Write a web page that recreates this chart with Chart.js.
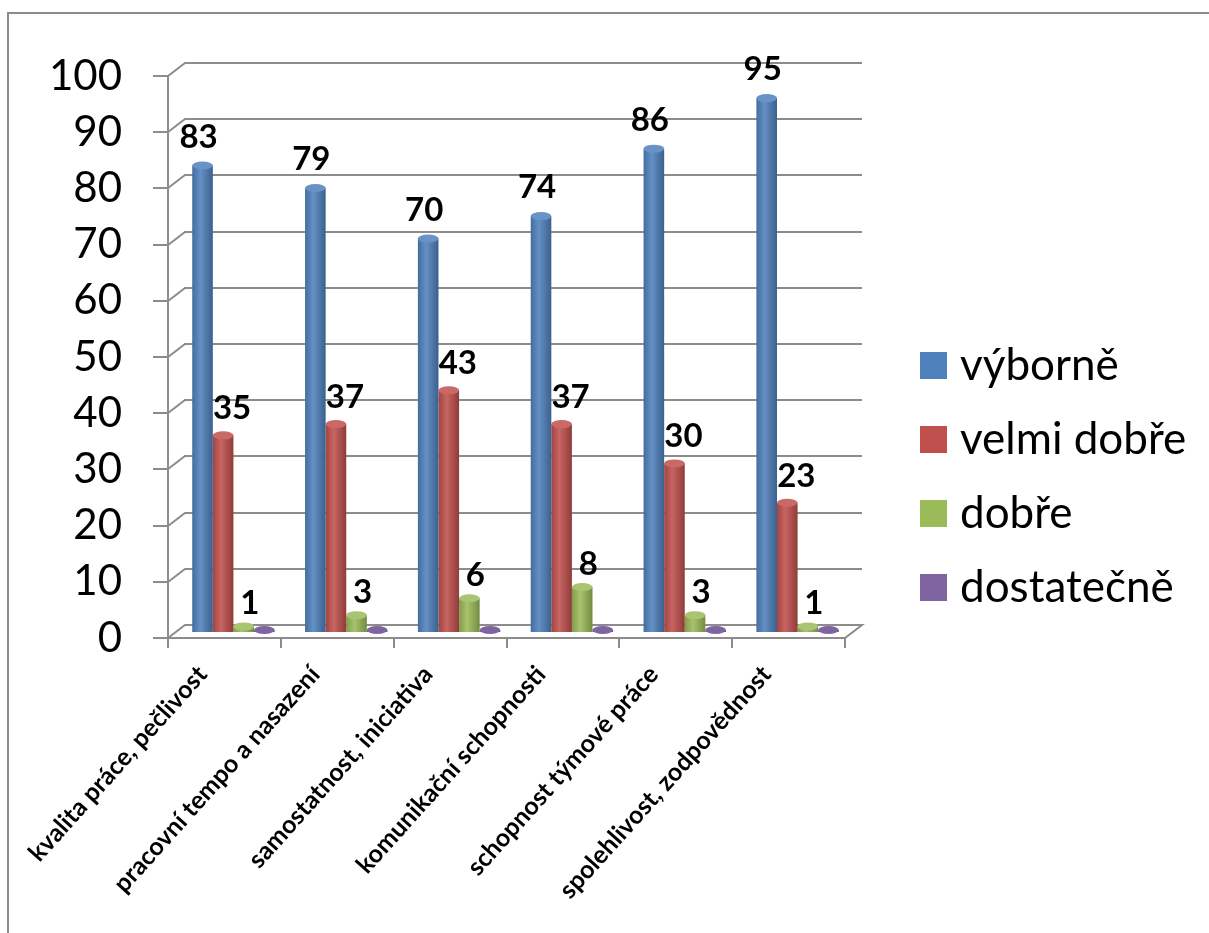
<!DOCTYPE html>
<html lang="cs">
<head>
<meta charset="utf-8">
<title>Hodnocení</title>
<script src="https://cdn.jsdelivr.net/npm/chart.js@4.4.1/dist/chart.umd.min.js"></script>
<style>
  html, body { margin: 0; padding: 0; background: #fff; overflow: hidden; }
  #wrap { position: relative; width: 1209px; height: 933px; }
  #frame { position: absolute; left: 7px; top: 12px; width: 1300px; height: 1000px; border: 2px solid #8c8c8c; box-sizing: border-box; }
  #chart { position: absolute; left: 0; top: 0; }
</style>
</head>
<body>
<div id="wrap">
  <div id="frame"></div>
  <canvas id="chart" width="1209" height="933"></canvas>
</div>
<script>
// data
const categories = [
  'kvalita práce, pečlivost',
  'pracovní tempo a nasazení',
  'samostatnost, iniciativa',
  'komunikační schopnosti',
  'schopnost týmové práce',
  'spolehlivost, zodpovědnost'
];
const seriesNames = ['výborně', 'velmi dobře', 'dobře', 'dostatečně'];
const vyborne    = [83, 79, 70, 74, 86, 95];
const velmiDobre = [35, 37, 43, 37, 30, 23];
const dobre      = [1, 3, 6, 8, 3, 1];
const dostatecne = [0, 0, 0, 0, 0, 0];

const colors = ['#4F81BD', '#C0504D', '#9BBB59', '#8064A2'];
const FONT = 'Lato, "Open Sans", sans-serif';

// 3D look: back wall offset
const DX = 17, DY = -13;
const SHIFT_X = 9, SHIFT_Y = -6;

function shade(hex, f) {
  const n = parseInt(hex.slice(1), 16);
  let r = n >> 16, g = (n >> 8) & 255, b = n & 255;
  if (f < 0) { r *= 1 + f; g *= 1 + f; b *= 1 + f; }
  else { r += (255 - r) * f; g += (255 - g) * f; b += (255 - b) * f; }
  return `rgb(${r | 0},${g | 0},${b | 0})`;
}

// cylinder-ish fill
function cylinder(c, base) {
  const el = c.element;
  if (!el || !el.width) return base;
  const g = c.chart.ctx.createLinearGradient(el.x - el.width / 2, 0, el.x + el.width / 2, 0);
  g.addColorStop(0, shade(base, -0.15));
  g.addColorStop(0.4, shade(base, 0.12));
  g.addColorStop(1, shade(base, -0.25));
  return g;
}

const datasets = [vyborne, velmiDobre, dobre, dostatecne].map((vals, i) => ({
  label: seriesNames[i],
  data: vals,
  backgroundColor: c => cylinder(c, colors[i]),
  borderWidth: 0,
  minBarLength: i === 3 ? 2 : 0
}));

const labelDx = [-4, 9, 6, 0];
const labelDy = [-24, -22, -18, 0];

const look3d = {
  id: 'look3d',
  beforeDatasetsDraw(chart) {
    const { ctx, chartArea: a, scales: { y } } = chart;
    ctx.save();
    ctx.strokeStyle = '#8c8c8c';
    ctx.lineWidth = 2;
    ctx.beginPath();
    y.ticks.forEach(t => {
      const py = Math.round(y.getPixelForValue(t.value));
      ctx.moveTo(a.left - 15, py);
      ctx.lineTo(a.left, py);
      if (t.value > 0) {
        ctx.lineTo(a.left + DX, py + DY);
        ctx.lineTo(a.right + DX, py + DY);
      }
    });
    // floor
    ctx.moveTo(a.left, a.bottom);
    ctx.lineTo(a.left + DX, a.bottom + DY);
    ctx.lineTo(a.right + DX, a.bottom + DY);
    ctx.lineTo(a.right, a.bottom);
    ctx.lineTo(a.left, a.bottom);
    // front axis
    ctx.moveTo(a.left, Math.round(y.getPixelForValue(100)));
    ctx.lineTo(a.left, a.bottom + 10);
    ctx.stroke();
    ctx.restore();

    ctx.save();
    ctx.translate(SHIFT_X, SHIFT_Y);
  },
  afterDatasetsDraw(chart) {
    const ctx = chart.ctx;
    // tops of the cylinders
    chart.data.datasets.forEach((ds, i) => {
      chart.getDatasetMeta(i).data.forEach(el => {
        ctx.beginPath();
        ctx.ellipse(el.x, el.y, el.width / 2, 4, 0, 0, Math.PI * 2);
        ctx.fillStyle = shade(colors[i], i === 3 ? 0 : 0.15);
        ctx.fill();
      });
    });
    ctx.restore();

    // value labels
    ctx.save();
    ctx.font = `bold 33px ${FONT}`;
    ctx.fillStyle = '#000';
    ctx.textAlign = 'center';
    ctx.textBaseline = 'alphabetic';
    chart.data.datasets.forEach((ds, i) => {
      chart.getDatasetMeta(i).data.forEach((el, j) => {
        const v = ds.data[j];
        if (!v) return;
        ctx.fillText(String(v), el.x + SHIFT_X + labelDx[i], el.y + labelDy[i]);
      });
    });
    ctx.restore();
  },
  afterDraw(chart) {
    const ctx = chart.ctx;
    ctx.save();
    ctx.font = `44px ${FONT}`;
    ctx.textBaseline = 'middle';
    chart.data.datasets.forEach((ds, i) => {
      const cy = 365 + i * 74;
      ctx.fillStyle = colors[i];
      ctx.fillRect(920, cy - 13, 27, 27);
      ctx.fillStyle = '#000';
      ctx.fillText(ds.label, 960, cy + 1);
    });
    ctx.restore();
  }
};

const chart = new Chart(document.getElementById('chart'), {
  type: 'bar',
  data: { labels: categories, datasets },
  options: {
    responsive: false,
    animation: false,
    layout: { padding: { left: 8, top: 76, right: 364, bottom: 0 } },
    datasets: { bar: { categoryPercentage: 0.73, barPercentage: 1.0 } },
    plugins: { legend: { display: false }, tooltip: { enabled: false } },
    scales: {
      x: {
        grid: { display: true, drawOnChartArea: false, drawTicks: true, tickLength: 10, color: '#8c8c8c', lineWidth: 2 },
        border: { display: false },
        ticks: {
          color: '#000',
          font: { family: FONT, size: 25, weight: 'bold' },
          maxRotation: 48, minRotation: 48, autoSkip: false, padding: 12, labelOffset: -22
        },
        afterFit: s => { s.height = 295; }
      },
      y: {
        min: 0, max: 100,
        grid: { display: false, drawTicks: false },
        border: { display: false },
        ticks: { stepSize: 10, color: '#000', font: { family: FONT, size: 42 }, padding: 46 },
        afterFit: s => { s.width = 160; }
      }
    }
  },
  plugins: [look3d]
});
// second pass so the gradients know the bar positions
chart.update();
</script>
</body>
</html>
